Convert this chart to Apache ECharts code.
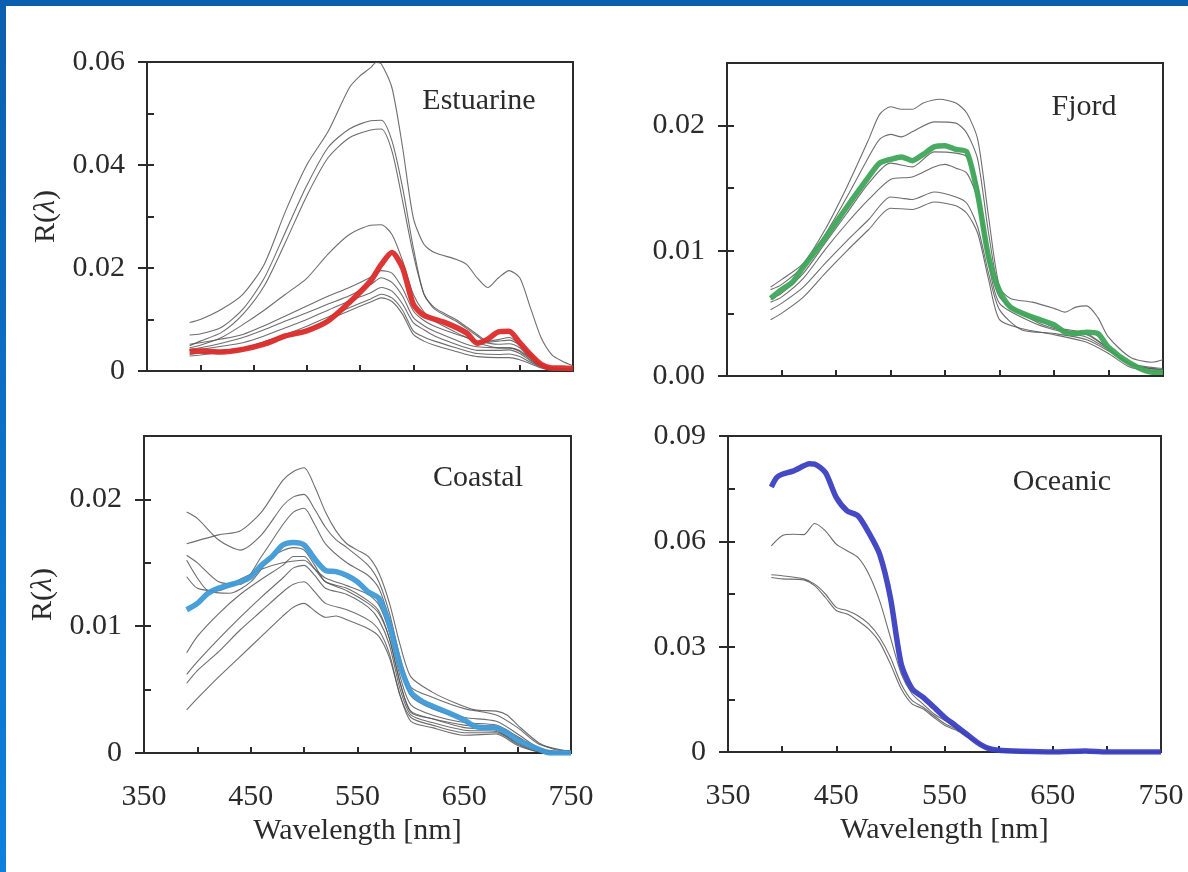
<!DOCTYPE html>
<html>
<head>
<meta charset="utf-8">
<script src="https://cdn.jsdelivr.net/npm/echarts@6/dist/echarts.min.js"></script>
<style>
html,body{margin:0;padding:0;background:#fff;}
#c{width:1188px;height:872px;}
</style>
</head>
<body>
<div id="c"></div>
<script>
// ---------- tick labels ----------
const xTickValues = [400, 450, 500, 550, 600, 650, 700];
const xLabelValues = [350, 450, 550, 650, 750];
const estYLabels = [0, 0.02, 0.04, 0.06];
const estYMinor = [0.01, 0.02, 0.03, 0.04, 0.05];
const fjYLabels = [0, 0.01, 0.02];
const fjYMinor = [0.005, 0.01, 0.015, 0.02];
const coYLabels = [0, 0.01, 0.02];
const coYMinor = [0.005, 0.01, 0.015, 0.02];
const ocYLabels = [0, 0.03, 0.06, 0.09];
const ocYMinor = [0.015, 0.03, 0.045, 0.06, 0.075];
const panelNames = ['Estuarine', 'Fjord', 'Coastal', 'Oceanic'];

// ---------- Estuarine [wavelength nm, R] ----------
const estRed = [[390,0.0038],[400,0.0039],[420,0.0037],[440,0.0042],[460,0.0052],[480,0.0068],[500,0.0078],[520,0.0097],[540,0.0133],[560,0.0175],[570,0.0207],[580,0.0230],[590,0.0200],[600,0.0130],[610,0.0108],[630,0.0094],[650,0.0074],[660,0.0054],[670,0.0062],[680,0.0076],[690,0.0077],[700,0.0055],[710,0.0032],[720,0.0013],[730,0.0006],[740,0.0006],[750,0.0005]];
const est1 = [[390,0.0094],[400,0.0100],[420,0.0120],[440,0.0149],[460,0.0207],[480,0.0310],[500,0.0400],[520,0.0465],[540,0.0550],[550,0.0573],[560,0.0589],[565,0.0599],[570,0.0596],[580,0.0550],[590,0.0434],[600,0.0298],[610,0.0246],[620,0.0230],[640,0.0217],[650,0.0207],[660,0.0181],[670,0.0162],[680,0.0181],[690,0.0195],[700,0.0181],[710,0.0123],[720,0.0065],[730,0.0032],[740,0.0019],[750,0.0010]];
const est2 = [[390,0.0070],[400,0.0072],[420,0.0085],[440,0.0120],[460,0.0180],[480,0.0270],[500,0.0360],[520,0.0434],[540,0.0470],[560,0.0486],[570,0.0487],[580,0.0447],[590,0.0356],[600,0.0240],[610,0.0149],[620,0.0123],[640,0.0100],[660,0.0071],[670,0.0058],[680,0.0061],[690,0.0065],[700,0.0052],[710,0.0032],[720,0.0013],[730,0.0006],[750,0.0004]];
const est3 = [[390,0.0049],[400,0.0058],[420,0.0075],[440,0.0110],[460,0.0165],[480,0.0250],[500,0.0340],[520,0.0414],[540,0.0453],[560,0.0468],[570,0.0470],[580,0.0427],[590,0.0330],[600,0.0227],[610,0.0150],[620,0.0120],[640,0.0097],[660,0.0068],[670,0.0056],[680,0.0058],[690,0.0060],[700,0.0050],[710,0.0030],[720,0.0012],[730,0.0006],[750,0.0004]];
const est4 = [[390,0.0045],[400,0.0050],[420,0.0065],[440,0.0090],[460,0.0118],[480,0.0149],[500,0.0180],[520,0.0227],[540,0.0265],[560,0.0283],[570,0.0284],[580,0.0265],[590,0.0214],[600,0.0149],[610,0.0115],[620,0.0097],[640,0.0075],[650,0.0065],[660,0.0055],[680,0.0045],[690,0.0045],[700,0.0040],[710,0.0025],[720,0.0013],[730,0.0006],[750,0.0003]];
const est5 = [[390,0.0052],[400,0.0055],[420,0.0062],[440,0.0071],[460,0.0088],[480,0.0107],[500,0.0126],[520,0.0145],[540,0.0162],[560,0.0182],[570,0.0195],[580,0.0190],[590,0.0160],[600,0.0117],[610,0.0098],[620,0.0087],[640,0.0072],[650,0.0065],[660,0.0058],[680,0.0052],[690,0.0053],[700,0.0045],[710,0.0025],[720,0.0012],[730,0.0005],[750,0.0003]];
const est6 = [[390,0.0042],[400,0.0045],[420,0.0054],[440,0.0065],[460,0.0080],[480,0.0097],[500,0.0113],[520,0.0130],[540,0.0146],[560,0.0168],[570,0.0181],[580,0.0172],[590,0.0145],[600,0.0104],[610,0.0088],[620,0.0077],[640,0.0060],[650,0.0052],[660,0.0047],[680,0.0045],[690,0.0045],[700,0.0038],[710,0.0022],[720,0.0010],[730,0.0004],[750,0.0002]];
const est7 = [[390,0.0040],[400,0.0042],[420,0.0048],[440,0.0055],[460,0.0068],[480,0.0084],[500,0.0100],[520,0.0118],[540,0.0136],[560,0.0152],[570,0.0162],[580,0.0155],[590,0.0130],[600,0.0094],[610,0.0080],[620,0.0068],[640,0.0052],[650,0.0045],[660,0.0040],[680,0.0040],[690,0.0041],[700,0.0034],[710,0.0020],[720,0.0009],[730,0.0003],[750,0.0002]];
const est8 = [[390,0.0032],[400,0.0035],[420,0.0040],[440,0.0045],[460,0.0057],[480,0.0071],[500,0.0087],[520,0.0105],[540,0.0123],[560,0.0140],[570,0.0149],[580,0.0142],[590,0.0118],[600,0.0078],[610,0.0066],[620,0.0058],[640,0.0045],[650,0.0039],[660,0.0034],[680,0.0032],[690,0.0033],[700,0.0028],[710,0.0017],[720,0.0008],[730,0.0003],[750,0.0002]];
const est9 = [[390,0.0029],[400,0.0031],[420,0.0036],[440,0.0042],[460,0.0052],[480,0.0065],[500,0.0081],[520,0.0099],[540,0.0117],[560,0.0134],[570,0.0142],[580,0.0135],[590,0.0110],[600,0.0071],[610,0.0058],[620,0.0050],[640,0.0038],[650,0.0032],[660,0.0028],[680,0.0026],[690,0.0026],[700,0.0022],[710,0.0014],[720,0.0006],[730,0.0002],[750,0.0001]];

// ---------- Fjord ----------
const fjGreen = [[390,0.0062],[400,0.0069],[410,0.0075],[420,0.0087],[440,0.0110],[460,0.0135],[480,0.0159],[490,0.0170],[500,0.0173],[510,0.0175],[520,0.0172],[530,0.0177],[540,0.0183],[550,0.0184],[560,0.0181],[570,0.0179],[580,0.0145],[590,0.0095],[600,0.0068],[610,0.0055],[630,0.0047],[650,0.0041],[660,0.0035],[670,0.0034],[680,0.0035],[690,0.0034],[700,0.0023],[720,0.0010],[740,0.0003],[750,0.0003]];
const fj1 = [[390,0.0071],[400,0.0077],[420,0.0090],[440,0.0117],[460,0.0151],[480,0.0189],[490,0.0209],[500,0.0215],[510,0.0213],[520,0.0213],[530,0.0218],[545,0.0221],[560,0.0218],[570,0.0210],[580,0.0189],[590,0.0127],[600,0.0071],[610,0.0062],[630,0.0059],[650,0.0054],[660,0.0051],[670,0.0055],[680,0.0056],[690,0.0047],[700,0.0031],[720,0.0015],[740,0.0011],[750,0.0013]];
const fj2 = [[390,0.0069],[400,0.0073],[420,0.0088],[440,0.0113],[460,0.0143],[480,0.0175],[490,0.0189],[500,0.0193],[510,0.0191],[520,0.0195],[540,0.0203],[560,0.0202],[570,0.0194],[580,0.0173],[590,0.0114],[600,0.0066],[610,0.0054],[630,0.0047],[650,0.0039],[680,0.0034],[700,0.0022],[720,0.0010],[750,0.0006]];
const fj3 = [[390,0.0061],[400,0.0066],[420,0.0082],[440,0.0106],[460,0.0130],[480,0.0154],[500,0.0170],[520,0.0167],[540,0.0179],[560,0.0178],[570,0.0175],[580,0.0151],[590,0.0095],[600,0.0063],[630,0.0045],[650,0.0038],[680,0.0033],[700,0.0022],[720,0.0009],[750,0.0005]];
const fj4 = [[390,0.0059],[400,0.0063],[420,0.0078],[440,0.0101],[460,0.0122],[480,0.0141],[500,0.0157],[520,0.0159],[540,0.0167],[550,0.0169],[560,0.0166],[570,0.0162],[580,0.0141],[590,0.0090],[600,0.0058],[630,0.0043],[650,0.0037],[680,0.0031],[700,0.0021],[720,0.0009],[750,0.0005]];
const fj5 = [[390,0.0053],[400,0.0058],[420,0.0071],[440,0.0090],[460,0.0108],[480,0.0125],[500,0.0143],[510,0.0142],[520,0.0141],[540,0.0147],[560,0.0143],[570,0.0138],[580,0.0119],[590,0.0082],[600,0.0053],[620,0.0037],[650,0.0034],[680,0.0029],[700,0.0020],[720,0.0009],[750,0.0005]];
const fj6 = [[390,0.0045],[400,0.0050],[420,0.0063],[440,0.0082],[460,0.0100],[480,0.0117],[500,0.0134],[520,0.0133],[540,0.0139],[560,0.0136],[570,0.0130],[580,0.0114],[590,0.0077],[600,0.0045],[620,0.0038],[650,0.0033],[680,0.0027],[700,0.0018],[720,0.0007],[750,0.0003]];

// ---------- Coastal ----------
const coBlue = [[390,0.0113],[400,0.0118],[410,0.0126],[420,0.0130],[440,0.0135],[450,0.0139],[460,0.0148],[470,0.0155],[480,0.0164],[490,0.0166],[500,0.0164],[510,0.0153],[520,0.0144],[530,0.0143],[540,0.0140],[550,0.0135],[560,0.0127],[570,0.0122],[580,0.0101],[590,0.0069],[600,0.0048],[610,0.0041],[620,0.0037],[640,0.0030],[650,0.0026],[660,0.0021],[670,0.0020],[680,0.0020],[690,0.0016],[700,0.0010],[720,0.0003],[730,0.0000],[750,0.0000]];
const co1 = [[390,0.0165],[420,0.0172],[440,0.0175],[460,0.0190],[480,0.0215],[490,0.0222],[500,0.0225],[510,0.0210],[520,0.0190],[530,0.0175],[540,0.0165],[550,0.0160],[560,0.0155],[570,0.0142],[580,0.0118],[590,0.0085],[600,0.0060],[620,0.0048],[640,0.0040],[660,0.0034],[680,0.0033],[690,0.0030],[700,0.0022],[720,0.0008],[740,0.0002],[750,0.0002]];
const co2 = [[390,0.0190],[400,0.0185],[420,0.0168],[440,0.0160],[460,0.0172],[480,0.0195],[490,0.0202],[500,0.0204],[510,0.0192],[520,0.0178],[530,0.0168],[540,0.0162],[560,0.0148],[570,0.0135],[580,0.0110],[590,0.0075],[600,0.0052],[620,0.0044],[650,0.0035],[680,0.0030],[700,0.0020],[720,0.0007],[750,0.0001]];
const co3 = [[390,0.0156],[400,0.0150],[420,0.0135],[440,0.0133],[460,0.0155],[480,0.0180],[490,0.0190],[500,0.0193],[510,0.0180],[520,0.0165],[540,0.0150],[560,0.0140],[570,0.0130],[580,0.0105],[590,0.0070],[600,0.0045],[620,0.0035],[650,0.0028],[680,0.0025],[700,0.0015],[720,0.0004],[750,0.0000]];
const co4 = [[390,0.0152],[400,0.0138],[410,0.0128],[430,0.0126],[450,0.0135],[470,0.0155],[490,0.0162],[500,0.0160],[510,0.0148],[520,0.0135],[540,0.0130],[560,0.0120],[570,0.0112],[580,0.0090],[590,0.0055],[600,0.0032],[620,0.0027],[650,0.0022],[680,0.0020],[700,0.0012],[720,0.0003],[750,0.0000]];
const co5 = [[390,0.0139],[400,0.0130],[420,0.0128],[440,0.0137],[460,0.0145],[480,0.0150],[500,0.0152],[510,0.0145],[520,0.0138],[540,0.0132],[560,0.0125],[570,0.0117],[580,0.0095],[590,0.0060],[600,0.0038],[620,0.0030],[650,0.0024],[680,0.0022],[700,0.0013],[720,0.0003],[750,0.0000]];
const co6 = [[390,0.0079],[400,0.0092],[420,0.0110],[440,0.0125],[460,0.0137],[480,0.0148],[490,0.0155],[500,0.0155],[510,0.0145],[520,0.0135],[540,0.0128],[560,0.0118],[570,0.0110],[580,0.0090],[590,0.0055],[600,0.0033],[620,0.0027],[650,0.0020],[680,0.0018],[700,0.0008],[720,0.0002],[750,0.0000]];
const co7 = [[390,0.0062],[400,0.0072],[420,0.0090],[440,0.0107],[460,0.0123],[480,0.0138],[490,0.0146],[500,0.0148],[510,0.0140],[520,0.0130],[540,0.0125],[560,0.0115],[570,0.0105],[580,0.0085],[590,0.0050],[600,0.0030],[620,0.0024],[650,0.0018],[680,0.0017],[700,0.0008],[720,0.0002],[750,0.0000]];
const co8 = [[390,0.0055],[400,0.0065],[420,0.0080],[440,0.0097],[460,0.0112],[480,0.0127],[490,0.0133],[500,0.0135],[510,0.0127],[520,0.0118],[540,0.0113],[560,0.0105],[570,0.0097],[580,0.0078],[590,0.0045],[600,0.0028],[620,0.0022],[650,0.0016],[680,0.0016],[700,0.0007],[720,0.0001],[750,0.0000]];
const co9 = [[390,0.0034],[400,0.0043],[420,0.0060],[440,0.0076],[460,0.0092],[480,0.0108],[490,0.0115],[500,0.0118],[510,0.0112],[520,0.0107],[530,0.0108],[540,0.0105],[560,0.0098],[570,0.0092],[580,0.0075],[590,0.0045],[600,0.0025],[620,0.0020],[650,0.0014],[680,0.0015],[700,0.0006],[720,0.0001],[750,0.0000]];

// ---------- Oceanic ----------
const ocBlue = [[390,0.0755],[395,0.0782],[400,0.0791],[410,0.0800],[420,0.0815],[425,0.0821],[430,0.0820],[440,0.0796],[450,0.0725],[460,0.0687],[470,0.0673],[480,0.0625],[490,0.0564],[500,0.0440],[510,0.0251],[520,0.0180],[530,0.0156],[540,0.0128],[550,0.0099],[560,0.0076],[570,0.0052],[580,0.0028],[590,0.0011],[600,0.0005],[620,0.0002],[650,0.0000],[680,0.0003],[700,0.0000],[750,0.0000]];
const oc1 = [[390,0.0587],[400,0.0616],[410,0.0620],[420,0.0619],[430,0.0651],[440,0.0630],[450,0.0592],[460,0.0573],[470,0.0554],[480,0.0507],[490,0.0431],[500,0.0327],[510,0.0223],[520,0.0166],[530,0.0137],[540,0.0109],[550,0.0090],[560,0.0071],[570,0.0052],[580,0.0028],[590,0.0012],[600,0.0005],[650,0.0000],[750,0.0000]];
const oc2 = [[390,0.0505],[400,0.0502],[420,0.0493],[430,0.0478],[440,0.0450],[450,0.0412],[460,0.0403],[470,0.0388],[480,0.0365],[490,0.0327],[500,0.0270],[510,0.0194],[520,0.0147],[530,0.0128],[540,0.0104],[550,0.0081],[560,0.0066],[570,0.0047],[580,0.0028],[590,0.0011],[600,0.0005],[650,0.0000],[750,0.0000]];
const oc3 = [[390,0.0497],[400,0.0493],[420,0.0490],[430,0.0474],[440,0.0440],[450,0.0403],[460,0.0393],[470,0.0374],[480,0.0350],[490,0.0313],[500,0.0251],[510,0.0180],[520,0.0137],[530,0.0123],[540,0.0099],[550,0.0076],[560,0.0063],[570,0.0045],[580,0.0028],[590,0.0011],[600,0.0005],[650,0.0000],[750,0.0000]];

// ---------- build ----------
const FONT = '"Liberation Serif", "DejaVu Serif", serif';
const INK = '#2b2b2b';
const grids = [
  {left: 147, top: 62, width: 426, height: 309},
  {left: 727, top: 63, width: 436, height: 313},
  {left: 144, top: 436, width: 427, height: 317},
  {left: 728, top: 436, width: 433, height: 316}
];
const yMax = [0.06, 0.025, 0.025, 0.09];
const yLabels = [estYLabels, fjYLabels, coYLabels, ocYLabels];
const yMinor = [estYMinor, fjYMinor, coYMinor, ocYMinor];
const zeroText = ['0', '0.00', '0', '0'];
const grays = [
  [est1, est2, est3, est4, est5, est6, est7, est8, est9],
  [fj1, fj2, fj3, fj4, fj5, fj6],
  [co1, co2, co3, co4, co5, co6, co7, co8, co9],
  [oc1, oc2, oc3]
];
const means = [estRed, fjGreen, coBlue, ocBlue];
const meanColors = ['#dc2a2a', '#3fa65a', '#3f9ad8', '#3b3fc0'];

const lineStyle = {color: INK, width: 2};
const textStyle = {fontFamily: FONT, fontSize: 30, color: INK};

const option = {
  backgroundColor: '#ffffff',
  animation: false,
  grid: grids.map(g => Object.assign({show: true, borderColor: INK, borderWidth: 2, backgroundColor: 'transparent'}, g)),
  xAxis: grids.map((g, i) => ({
    type: 'value', gridIndex: i, min: 350, max: 750, position: 'bottom',
    axisLine: {show: true, lineStyle},
    axisTick: {show: true, inside: true, length: 6, lineStyle, customValues: xTickValues},
    axisLabel: {show: i >= 2, margin: 29, customValues: xLabelValues, fontFamily: FONT, fontSize: 30, color: INK},
    splitLine: {show: false},
    name: i >= 2 ? 'Wavelength [nm]' : '',
    nameLocation: 'middle', nameGap: 63,
    nameTextStyle: textStyle
  })),
  yAxis: [],
  series: [],
  graphic: []
};

grids.forEach((g, i) => {
  option.yAxis.push({
    type: 'value', gridIndex: i, min: 0, max: yMax[i], position: 'left',
    axisLine: {show: true, lineStyle},
    axisTick: {show: true, inside: false, length: 9, lineStyle, customValues: yLabels[i]},
    axisLabel: {margin: 22, customValues: yLabels[i], fontFamily: FONT, fontSize: 30, color: INK,
      formatter: v => (Math.abs(v) < 1e-9 ? zeroText[i] : v.toFixed(2))},
    splitLine: {show: false},
    name: (i === 0 || i === 2) ? 'R({i|λ})' : '',
    nameLocation: 'middle', nameGap: 86,
    nameTextStyle: Object.assign({}, textStyle, {rich: {i: {fontFamily: FONT, fontSize: 30, fontStyle: 'italic', color: INK}}})
  });
});
grids.forEach((g, i) => {
  option.yAxis.push({
    type: 'value', gridIndex: i, min: 0, max: yMax[i], position: 'left', offset: 0,
    axisLine: {show: false},
    axisTick: {show: true, inside: true, length: 7, lineStyle, customValues: yMinor[i]},
    axisLabel: {show: false},
    splitLine: {show: false}
  });
});

grids.forEach((g, i) => {
  grays[i].forEach((d, k) => {
    option.series.push({
      type: 'line', xAxisIndex: i, yAxisIndex: i, data: d,
      showSymbol: false, smooth: 0.25, silent: true,
      lineStyle: {color: '#555555', width: 1.1, opacity: 0.85}, z: 2
    });
  });
  option.series.push({
    type: 'line', xAxisIndex: i, yAxisIndex: i, data: means[i],
    showSymbol: false, smooth: 0.25, silent: true,
    lineStyle: {color: meanColors[i], width: 5.5, opacity: 0.95}, z: 3
  });
});

const titlePos = [[479, 101], [1084, 107], [478, 478], [1062, 482]];
panelNames.forEach((n, i) => {
  option.graphic.push({
    type: 'text', x: titlePos[i][0], y: titlePos[i][1], silent: true,
    style: {text: n, fontFamily: FONT, fontSize: 30, fill: INK, align: 'center', verticalAlign: 'middle'}
  });
});
// blue frame of the slide
option.graphic.push({type: 'rect', shape: {x: 0, y: 0, width: 1188, height: 6}, style: {fill: '#0b5fae'}, silent: true});
option.graphic.push({type: 'rect', shape: {x: 0, y: 0, width: 6, height: 872},
  style: {fill: new echarts.graphic.LinearGradient(0, 0, 0, 1, [{offset: 0, color: '#0b5fae'}, {offset: 1, color: '#0d80de'}])}, silent: true});

const chart = echarts.init(document.getElementById('c'), null, {renderer: 'canvas'});
chart.setOption(option);
</script>
</body>
</html>
